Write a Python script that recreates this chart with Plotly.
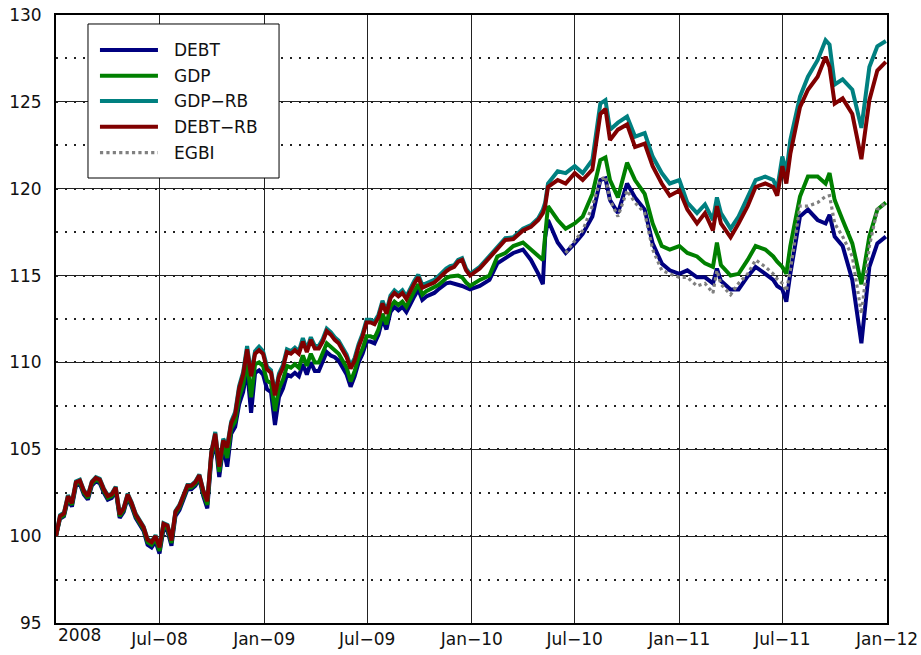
import pandas as pd
import plotly.graph_objects as go

# ---- 2008-2009: weekly readings (Tuesdays from 2008-01-01) ----
WEEKS_0809 = [d.strftime("%Y-%m-%d") for d in pd.date_range("2008-01-01", periods=105, freq="7D")]

DEBT_RB_0809 = [
    100.0, 101.15, 101.3, 102.3, 101.9, 103.1, 103.2, 102.6, 102.3, 103.1,
    103.35, 103.25, 102.7, 102.3, 102.4, 102.8, 101.25, 101.6, 102.4, 101.9,
    101.25, 100.9, 100.5, 99.8, 99.65, 100.0, 99.35, 100.7, 100.6, 99.75,
    101.4, 101.75, 102.3, 102.9, 102.9, 103.1, 103.5, 102.6, 102.0, 104.8,
    105.9, 104.0, 105.5, 105.1, 106.5, 107.0, 108.5, 109.3, 110.75, 109.2,
    110.5, 110.7, 110.5, 109.6, 109.4, 108.1, 109.2, 109.7, 110.6, 110.5,
    110.7, 110.5, 111.2, 110.6, 111.3, 110.8, 110.8, 111.2, 111.8, 111.6,
    111.3, 111.1, 110.7, 110.3, 109.65, 110.1, 110.9, 111.5, 112.3, 112.3,
    112.2, 112.6, 113.4, 112.8, 113.7, 114.0, 113.8, 114.0, 113.65, 114.15,
    114.55, 114.9, 114.3, 114.4, 114.5, 114.6, 114.8, 115.05, 115.25, 115.4,
    115.5, 115.8, 115.9, 115.3, 115.0,
]
GDP_RB_0809 = [
    100.0, 101.2, 101.35, 102.35, 101.95, 103.15, 103.25, 102.65, 102.35, 103.15,
    103.4, 103.3, 102.75, 102.35, 102.45, 102.85, 101.3, 101.65, 102.45, 101.95,
    101.3, 100.95, 100.55, 99.85, 99.7, 100.05, 99.4, 100.75, 100.65, 99.8,
    101.45, 101.8, 102.35, 102.95, 102.95, 103.15, 103.55, 102.65, 102.05, 104.85,
    106.0, 104.1, 105.6, 105.2, 106.6, 107.15, 108.65, 109.45, 110.95, 109.35,
    110.65, 110.9, 110.65, 109.75, 109.55, 108.2, 109.35, 109.85, 110.75, 110.65,
    110.85, 110.65, 111.4, 110.75, 111.45, 110.95, 110.95, 111.35, 111.95, 111.75,
    111.45, 111.25, 110.85, 110.45, 109.8, 110.25, 111.05, 111.65, 112.45, 112.45,
    112.35, 112.75, 113.55, 112.95, 113.85, 114.15, 113.95, 114.15, 113.8, 114.3,
    114.7, 115.05, 114.45, 114.55, 114.65, 114.75, 114.95, 115.2, 115.4, 115.55,
    115.6, 115.9, 116.0, 115.4, 115.1,
]
GDP_0809 = [
    100.0, 101.05, 101.2, 102.2, 101.8, 103.0, 103.1, 102.5, 102.2, 103.0,
    103.25, 103.15, 102.6, 102.2, 102.3, 102.7, 101.15, 101.5, 102.3, 101.8,
    101.15, 100.8, 100.4, 99.65, 99.5, 99.85, 99.15, 100.55, 100.45, 99.6,
    101.3, 101.65, 102.2, 102.8, 102.8, 103.0, 103.4, 102.45, 101.8, 104.6,
    105.7, 103.7, 105.3, 104.5, 106.2, 106.6, 108.0, 108.7, 110.1, 108.0,
    109.9, 110.0, 109.8, 108.95, 108.8, 107.2, 108.5, 109.0, 109.8, 109.7,
    109.9, 109.7, 110.4, 109.8, 110.5, 110.0, 110.0, 110.5, 111.1, 110.9,
    110.7, 110.5, 110.1, 109.7, 108.9, 109.5, 110.3, 110.8, 111.5, 111.5,
    111.4, 111.9, 112.8, 112.2, 113.2, 113.5, 113.3, 113.5, 113.2, 113.7,
    114.1, 114.5, 113.9, 114.1, 114.2, 114.3, 114.45, 114.65, 114.85, 114.95,
    115.0, 115.0, 114.9, 114.6, 114.4,
]
DEBT_0809 = [
    100.0, 101.0, 101.15, 102.1, 101.7, 102.9, 103.0, 102.4, 102.1, 102.9,
    103.15, 103.05, 102.5, 102.1, 102.2, 102.6, 101.05, 101.4, 102.2, 101.7,
    101.05, 100.7, 100.3, 99.5, 99.35, 99.7, 99.0, 100.4, 100.3, 99.45,
    101.15, 101.5, 102.05, 102.7, 102.7, 102.9, 103.3, 102.3, 101.6, 104.4,
    105.5, 103.4, 105.1, 104.0, 105.9, 106.3, 107.6, 108.3, 109.6, 107.1,
    109.4, 109.55, 109.3, 108.45, 108.3, 106.4, 108.0, 108.5, 109.3, 109.2,
    109.4, 109.2, 109.9, 109.3, 110.0, 109.5, 109.5, 110.0, 110.6, 110.4,
    110.3, 110.1, 109.7, 109.3, 108.6, 109.2, 110.0, 110.5, 111.2, 111.2,
    111.1, 111.6, 112.5, 111.9, 112.9, 113.2, 113.0, 113.2, 112.9, 113.4,
    113.8, 114.2, 113.6, 113.8, 113.9, 114.0, 114.2, 114.4, 114.55, 114.6,
    114.55, 114.5, 114.4, 114.3, 114.2,
]

# ---- 2010-2011 readings ----
DATES_1011 = [
    "2010-01-15", "2010-02-01", "2010-02-15", "2010-03-01",
    "2010-03-15", "2010-04-01", "2010-04-15", "2010-04-28", "2010-05-06", "2010-05-10",
    "2010-05-15", "2010-06-01", "2010-06-15", "2010-07-01", "2010-07-15", "2010-08-01",
    "2010-08-15", "2010-08-24", "2010-09-01", "2010-09-15", "2010-10-01", "2010-10-15",
    "2010-11-01", "2010-11-15", "2010-12-01", "2010-12-15", "2011-01-01", "2011-01-15",
    "2011-02-01", "2011-02-15", "2011-03-01", "2011-03-08", "2011-03-15", "2011-04-01",
    "2011-04-15", "2011-05-01", "2011-05-15", "2011-06-01", "2011-06-15", "2011-06-22",
    "2011-07-01", "2011-07-08", "2011-07-15", "2011-08-01", "2011-08-15", "2011-09-01",
    "2011-09-15", "2011-09-22", "2011-10-01", "2011-10-15", "2011-11-01", "2011-11-17",
    "2011-12-01", "2011-12-15", "2011-12-30",
]
DEBT_1011 = [
    114.4, 114.75, 115.7, 116.0, 116.3, 116.5, 115.9, 115.1, 114.5, 117.2,
    118.2, 116.9, 116.3, 116.85, 117.4, 118.4, 120.5, 120.6, 119.35, 118.6, 120.3, 119.5,
    118.8, 116.85, 115.7, 115.3, 115.1, 115.3, 114.9, 114.9, 114.55, 115.4, 114.7, 114.2,
    114.2, 114.95, 115.5, 115.1, 114.75, 114.4, 114.2, 113.5, 115.1, 118.4, 118.8, 118.2,
    118.0, 118.5, 117.25, 116.7, 114.75, 111.1, 115.5, 116.85, 117.25,
]
GDP_1011 = [
    114.75, 115.0, 116.1, 116.3, 116.7, 116.9, 116.5, 116.1, 115.9, 117.3,
    119.0, 118.2, 117.7, 118.0, 118.4, 119.7, 121.65, 121.8, 120.5, 119.5, 121.5, 120.5,
    119.7, 118.0, 116.7, 116.5, 116.7, 116.3, 116.1, 115.7, 115.5, 116.9, 115.6, 115.0,
    115.1, 115.9, 116.7, 116.5, 116.1, 115.8, 115.5, 115.1, 116.7, 119.55, 120.7, 120.7,
    120.3, 120.9, 119.35, 118.2, 116.85, 114.5, 117.25, 118.8, 119.2,
]
GDP_RB_1011 = [
    115.5, 116.1, 116.6, 117.15, 117.2, 117.7, 117.9, 118.3, 118.8, 119.2,
    120.3, 121.0, 120.9, 121.3, 120.9, 121.65, 124.9, 125.1, 123.4, 123.8, 124.15, 123.0,
    123.2, 121.85, 120.9, 120.3, 120.5, 119.2, 118.6, 119.1, 118.2, 119.5, 118.6, 117.7,
    118.4, 119.55, 120.5, 120.7, 120.5, 120.0, 121.85, 120.9, 122.8, 125.3, 126.45, 127.4,
    128.55, 128.3, 126.0, 126.3, 125.7, 123.5, 127.0, 128.2, 128.5,
]
DEBT_RB_1011 = [
    115.4, 116.0, 116.5, 117.05, 117.1, 117.6, 117.8, 118.2, 118.6, 119.0,
    120.1, 120.5, 120.3, 120.9, 120.5, 121.1, 124.3, 124.6, 122.8, 123.4, 123.7, 122.4,
    122.6, 121.3, 120.3, 119.6, 119.9, 118.8, 118.0, 118.6, 117.6, 119.0, 118.0, 117.2,
    118.0, 119.0, 120.1, 120.3, 120.1, 119.6, 121.3, 120.3, 122.0, 124.7, 125.7, 126.45,
    127.6, 127.0, 124.9, 125.2, 124.3, 121.7, 125.1, 126.8, 127.3,
]
EGBI_1011 = [None] * 12 + [
    116.3, 117.0, 117.6, 119.0, 120.5, 120.7, 119.35, 118.4, 119.9, 119.2,
    118.6, 116.5, 115.3, 115.1, 114.9, 114.9, 114.4, 114.55, 114.0, 115.3, 114.5, 113.9,
    114.55, 115.1, 115.9, 115.5, 115.1, 114.8, 114.55, 114.1, 115.3, 119.0, 119.0, 119.2,
    119.55, 119.6, 118.0, 117.25, 116.1, 112.8, 116.7, 118.8, 119.2,
]

DATES = WEEKS_0809 + DATES_1011
DEBT = DEBT_0809 + DEBT_1011
GDP = GDP_0809 + GDP_1011
GDP_RB = GDP_RB_0809 + GDP_RB_1011
DEBT_RB = DEBT_RB_0809 + DEBT_RB_1011
EGBI = [None] * len(WEEKS_0809) + EGBI_1011

SERIES = [
    ("DEBT", DEBT, "#000080", "solid"),
    ("GDP", GDP, "#008000", "solid"),
    ("GDP\u2212RB", GDP_RB, "#008080", "solid"),
    ("DEBT\u2212RB", DEBT_RB, "#800000", "solid"),
    ("EGBI", EGBI, "#808080", "dot"),
]

X_TICKS = ["2008-01-01", "2008-07-01", "2009-01-01", "2009-07-01", "2010-01-01",
           "2010-07-01", "2011-01-01", "2011-07-01", "2012-01-01"]
X_LABELS = ["", "Jul\u221208", "Jan\u221209", "Jul\u221209", "Jan\u221210",
            "Jul\u221210", "Jan\u221211", "Jul\u221211", "Jan\u221212"]
Y_TICKS = [95, 100, 105, 110, 115, 120, 125, 130]

FONT = "DejaVu Sans"
FSIZE = 17

fig = go.Figure()
for name, vals, color, dash in SERIES:
    fig.add_trace(go.Scatter(
        x=DATES, y=vals, name=name, mode="lines",
        line=dict(color=color, width=4 if dash == "solid" else 3.2, dash=dash),
        connectgaps=False, showlegend=False,
    ))

# hand-drawn legend box (long line samples, as in the reference)
shapes = [dict(type="rect", xref="paper", yref="paper", x0=0.0385, x1=0.2684,
               y0=0.7319, y1=0.9852, fillcolor="white",
               line=dict(color="black", width=1), layer="above")]
annotations = []
leg_y = [0.9424, 0.9002, 0.8586, 0.8163, 0.7735]
for (name, _vals, color, dash), yy in zip(SERIES, leg_y):
    shapes.append(dict(type="line", xref="paper", yref="paper", x0=0.0529, x1=0.1227,
                       y0=yy, y1=yy, layer="above",
                       line=dict(color=color, width=4 if dash == "solid" else 3.2,
                                 dash=dash)))
    annotations.append(dict(text=name, xref="paper", yref="paper", x=0.1396, y=yy,
                            xanchor="left", yanchor="middle", showarrow=False,
                            font=dict(family=FONT, size=FSIZE, color="#111")))
annotations.append(dict(text="2008", xref="paper", yref="paper", x=0.0, y=0,
                        xanchor="left", yanchor="top", yshift=0, showarrow=False,
                        font=dict(family=FONT, size=FSIZE, color="#111")))

fig.update_layout(
    width=921, height=655,
    margin=dict(l=56, r=34, t=15, b=32),
    paper_bgcolor="white", plot_bgcolor="white",
    font=dict(family=FONT, size=FSIZE, color="#111"),
    showlegend=False,
    shapes=shapes,
    annotations=annotations,
)

fig.update_xaxes(
    type="date", range=["2008-01-01", "2012-01-01"],
    tickvals=X_TICKS, ticktext=X_LABELS, ticks="",
    showgrid=True, gridcolor="#222", gridwidth=1,
    showline=True, linecolor="black", linewidth=2, mirror=True,
    automargin=False, ticklabelstandoff=0, zeroline=False,
)
fig.update_yaxes(
    range=[95, 130], tickvals=Y_TICKS, ticks="",
    showgrid=True, gridcolor="#222", gridwidth=1,
    minor=dict(dtick=2.5, tick0=95, showgrid=True, gridcolor="#222",
               gridwidth=1.5, griddash="2px,7px"),
    showline=True, linecolor="black", linewidth=2, mirror=True,
    automargin=False, ticklabelstandoff=9, zeroline=False,
)

fig.write_html("out.html", config={"displayModeBar": False},
               post_script="document.body.style.margin='0px';")
